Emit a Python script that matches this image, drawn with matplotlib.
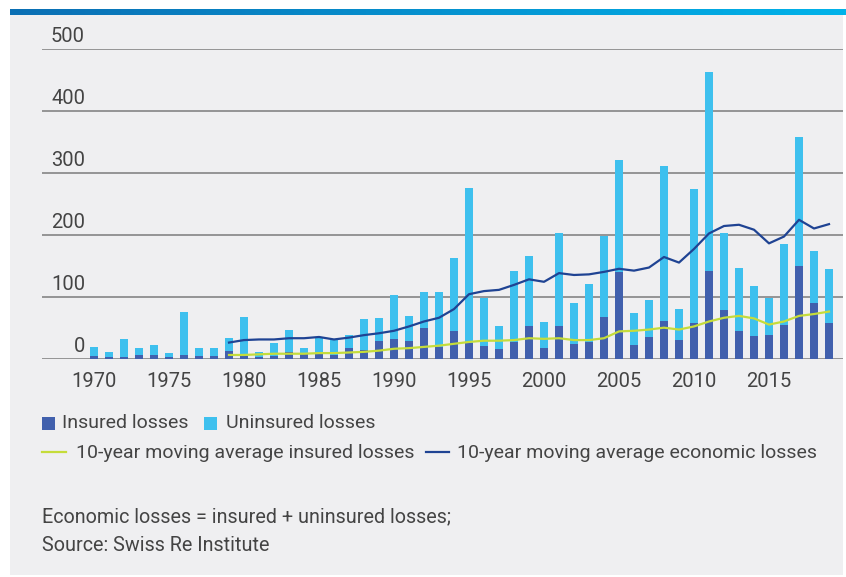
import numpy as np
import matplotlib
matplotlib.use("Agg")
import matplotlib.pyplot as plt
from matplotlib.patches import Rectangle
from matplotlib.lines import Line2D
from matplotlib.colors import LinearSegmentedColormap

plt.rcParams['font.family'] = ['Roboto', 'DejaVu Sans']

# Annual natural catastrophe losses, USD bn
years = list(range(1970, 2020))
insured = [5, 3, 4, 7, 7, 4, 7, 6, 6, 13,
           6, 4, 6, 12, 8, 10, 7, 19, 15, 30,
           33, 30, 51, 20, 45, 26, 22, 16, 28, 54,
           19, 53, 24, 28, 68, 141, 23, 36, 62, 31,
           58, 142, 80, 46, 38, 39, 56, 150, 91, 58]
uninsured = [15, 8, 29, 12, 16, 6, 70, 13, 12, 22,
             62, 8, 21, 35, 11, 25, 24, 21, 50, 37,
             71, 40, 58, 89, 119, 250, 77, 38, 114, 113,
             41, 150, 67, 93, 131, 180, 51, 59, 249, 50,
             216, 321, 123, 102, 81, 60, 130, 209, 83, 87]

ma_years = list(range(1979, 2020))
ma_insured = [7, 7, 8, 9, 9, 9, 10, 10, 11, 12,
              14, 17, 18, 20, 22, 25, 28, 30, 30, 31,
              34, 33, 34, 31, 31, 34, 45, 46, 48, 51,
              48, 53, 61, 67, 70, 66, 56, 61, 70, 73, 77]
ma_economic = [27, 31, 32, 32, 34, 34, 36, 32, 35, 39,
               42, 46, 53, 61, 67, 81, 105, 110, 112, 120,
               129, 125, 139, 136, 137, 141, 146, 143, 148, 165,
               156, 178, 203, 215, 217, 209, 187, 198, 225, 211, 218]

y_ticks = [0, 100, 200, 300, 400, 500]
x_ticks = [1970, 1975, 1980, 1985, 1990, 1995, 2000, 2005, 2010, 2015]

C_INS = '#4160ad'
C_UNINS = '#3ec0ee'
C_MA_INS = '#c5dc3a'
C_MA_ECO = '#1f4393'
C_TEXT = '#444444'
C_GRID = '#858585'
C_BG = '#efeff1'
FS_TICK = 14.5
FS_LEG = 14
FS_NOTE = 14.2

W, H = 846, 577
fig = plt.figure(figsize=(W / 100, H / 100), dpi=100)
fig.patch.set_facecolor('white')


def fx(x):
    return x / W


def fy(y):
    return 1 - y / H


# panel background
fig.patches.append(Rectangle((fx(10), fy(575)), fx(833), (575 - 15) / H,
                             transform=fig.transFigure, facecolor=C_BG,
                             edgecolor='none', zorder=-10))

# header gradient strip
bar_ax = fig.add_axes([fx(10), fy(15), fx(836), 6 / H])
grad = LinearSegmentedColormap.from_list('hdr', ['#0b6fb4', '#01b3ea'])
bar_ax.imshow(np.linspace(0, 1, 256)[None, :], aspect='auto', cmap=grad,
              extent=[0, 1, 0, 1])
bar_ax.set_axis_off()

# main plot
ax = fig.add_axes([fx(42), fy(359.3), fx(801), 310 / H])
ax.set_facecolor('none')
for s in ax.spines.values():
    s.set_visible(False)

bw = 0.54
ax.bar(years, insured, width=bw, color=C_INS, zorder=3)
ax.bar(years, uninsured, width=bw, bottom=insured, color=C_UNINS, zorder=3)
ax.plot(ma_years, ma_insured, color=C_MA_INS, lw=1.6, zorder=4)
ax.plot(ma_years, ma_economic, color=C_MA_ECO, lw=1.6, zorder=4)

for v in y_ticks:
    ax.axhline(v, color=C_GRID, lw=1.2, zorder=1)
    ax.annotate(str(v), xy=(43 / 801, v), xycoords=('axes fraction', 'data'),
                xytext=(0, 5), textcoords='offset points', ha='right',
                va='baseline', fontsize=FS_TICK, color=C_TEXT)

ax.set_xlim(1970 - 52 / 15, 1970 + 749 / 15)
ax.set_ylim(0, 500)
ax.set_yticks([])
ax.set_xticks(x_ticks)
ax.set_xticklabels([str(t) for t in x_ticks], fontsize=FS_TICK, color=C_TEXT)
ax.tick_params(axis='x', length=0, pad=9)

# legend
fig.patches.append(Rectangle((fx(42), fy(430)), 13 / W, 13 / H,
                             transform=fig.transFigure, facecolor=C_INS,
                             edgecolor='none'))
fig.text(fx(62), fy(423.5), 'Insured losses', fontsize=FS_LEG, color=C_TEXT,
         va='center', ha='left')
fig.patches.append(Rectangle((fx(204), fy(430)), 13 / W, 13 / H,
                             transform=fig.transFigure, facecolor=C_UNINS,
                             edgecolor='none'))
fig.text(fx(226), fy(423.5), 'Uninsured losses', fontsize=FS_LEG,
         color=C_TEXT, va='center', ha='left')

fig.add_artist(Line2D([fx(42), fx(66)], [fy(452), fy(452)],
                      transform=fig.transFigure, color=C_MA_INS, lw=1.6))
fig.text(fx(76), fy(452.5), '10-year moving average insured losses',
         fontsize=FS_LEG, color=C_TEXT, va='center', ha='left')
fig.add_artist(Line2D([fx(426), fx(449)], [fy(452), fy(452)],
                      transform=fig.transFigure, color=C_MA_ECO, lw=1.6))
fig.text(fx(457), fy(452.5), '10-year moving average economic losses',
         fontsize=FS_LEG, color=C_TEXT, va='center', ha='left')

# footnote
fig.text(fx(42), fy(516.5), 'Economic losses = insured + uninsured losses;',
         fontsize=FS_NOTE, color=C_TEXT, va='center', ha='left')
fig.text(fx(42), fy(545.5), 'Source: Swiss Re Institute',
         fontsize=FS_NOTE, color=C_TEXT, va='center', ha='left')

fig.savefig('out.png', dpi=100, facecolor=fig.get_facecolor())
